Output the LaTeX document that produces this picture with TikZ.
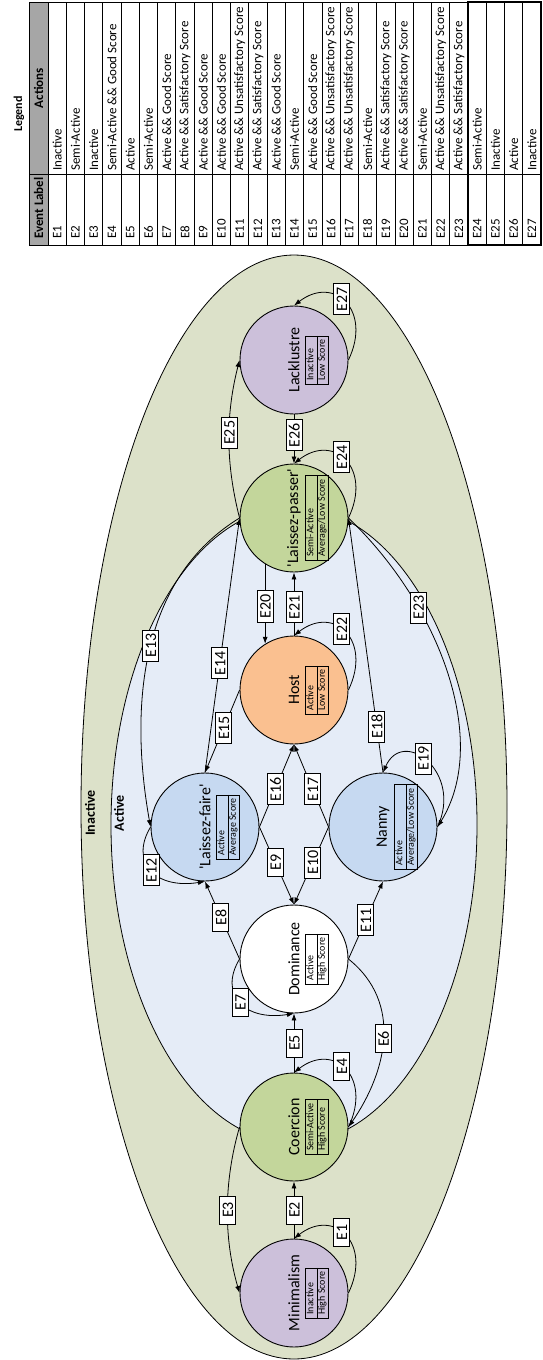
\documentclass[tikz,border=0pt]{standalone}
\usepackage{fontspec}
\setmainfont{Carlito}
\usepackage{tikz}
\usetikzlibrary{positioning,shapes,arrows.meta}

\definecolor{inactivebg}{HTML}{DCE1C9}
\definecolor{activebg}{HTML}{E5ECF7}
\definecolor{lavender}{HTML}{CCC0DA}
\definecolor{olivefill}{HTML}{C3D69B}
\definecolor{peach}{HTML}{FAC090}
\definecolor{skyfill}{HTML}{C6D9F1}
\definecolor{headgray}{HTML}{A6A6A6}

\newcommand{\fsz}[1]{\fontsize{#1}{#1}\selectfont}

\begin{document}
\begin{tikzpicture}[x=1pt,y=1pt]
\tikzstyle{every node}+=[inner sep=0pt]
\tikzstyle{state}=[circle,draw=black,line width=0.9pt,minimum size=108pt]
\tikzstyle{sname}=[rotate=90,font=\fsz{16}]
\tikzstyle{info}=[rectangle split,rectangle split parts=2,rectangle split part align=left,draw=black,line width=0.7pt,rotate=90,font=\fsz{10},inner xsep=3.5pt,inner ysep=0.4pt]
\tikzstyle{elabel}=[draw=black,fill=white,line width=0.8pt,rotate=90,font=\fsz{16},minimum width=28pt,inner xsep=3.5pt,text height=11pt,text depth=0pt,inner ysep=2.5pt]
\tikzstyle{edge}=[line width=0.8pt,-{Latex[length=7pt,width=5pt]}]
\tikzstyle{legtext}=[rotate=90,font=\fsz{13},anchor=west]
\useasboundingbox (0,0) rectangle (543,-1360);

\node[rotate=90,font=\bfseries\fsz{12}] (legend) at (19,-114) {Legend};
\fill[headgray] (29,-2) rectangle (48,-245);
\foreach \k/\act in {1/Inactive,2/Semi-Active,3/Inactive,4/Semi-Active \&\& Good Score,5/Active,6/Semi-Active,7/Active \&\& Good Score,8/Active \&\& Satisfactory Score,9/Active \&\& Good Score,10/Active \&\& Good Score,11/Active \&\& Unsatisfactory Score,12/Active \&\& Satisfactory Score,13/Active \&\& Good Score,14/Semi-Active,15/Active \&\& Good Score,16/Active \&\& Unsatisfactory Score,17/Active \&\& Unsatisfactory Score,18/Semi-Active,19/Active \&\& Satisfactory Score,20/Active \&\& Satisfactory Score,21/Semi-Active,22/Active \&\& Unsatisfactory Score,23/Active \&\& Satisfactory Score,24/Semi-Active,25/Inactive,26/Active,27/Inactive}{
  \node[legtext] (ev\k) at ({38.87+18.26*\k},-239) {E\k};
  \node[legtext] (act\k) at ({38.87+18.26*\k},-171) {\act};
}
\foreach \k in {0,...,26} \draw[line width=0.8pt] ({48+18.26*\k},-2) -- ({48+18.26*\k},-245);
\draw[line width=0.8pt] (29,-174) -- (541,-174);
\draw[line width=0.8pt] (29,-2) rectangle (541,-245);
\draw[line width=1.4pt] (468,-2) rectangle (541,-245);
\node[legtext,font=\bfseries\fsz{13}] (evhead) at (38.5,-239) {Event Label};
\node[rotate=90,font=\bfseries\fsz{13}] (acthead) at (38.5,-88) {Actions};

\draw[fill=inactivebg,line width=0.8pt] (294,-807) ellipse (213pt and 552pt);
\draw[fill=activebg,line width=0.8pt] (294,-825) ellipse (183pt and 318pt);
\node[rotate=90,font=\bfseries\fsz{14}] (inactive) at (90,-813) {Inactive};
\node[rotate=90,font=\bfseries\fsz{14}] (active) at (119,-813) {Active};

\node[state,fill=lavender] (lack) at (294,-360) {};
\node[state,fill=olivefill] (lpass) at (294,-518) {};
\node[state,fill=peach] (host) at (294,-690) {};
\node[state,fill=skyfill] (lfaire) at (205,-827) {};
\node[state,fill=skyfill] (nanny) at (383,-827) {};
\node[state,fill=white] (dom) at (294,-959) {};
\node[state,fill=olivefill] (coer) at (294,-1127) {};
\node[state,fill=lavender] (mini) at (294,-1293) {};

\node[sname] (lack-name) at (lack) {Lacklustre};
\node[info] (lack-info) at ([xshift=23pt]lack.center) {\strut Inactive\nodepart{two}\strut Low Score};
\node[sname] (lpass-name) at (lpass) {\textquotesingle Laissez-passer\textquotesingle};
\node[info] (lpass-info) at ([xshift=23pt]lpass.center) {\strut Semi-Active\nodepart{two}\strut Average/Low Score};
\node[sname] (host-name) at (host) {Host};
\node[info] (host-info) at ([xshift=23pt]host.center) {\strut Active\nodepart{two}\strut Low Score};
\node[sname] (lfaire-name) at (lfaire) {\textquotesingle Laissez-faire\textquotesingle};
\node[info] (lfaire-info) at ([xshift=23pt]lfaire.center) {\strut Active\nodepart{two}\strut Average Score};
\node[sname] (nanny-name) at (nanny) {Nanny};
\node[info] (nanny-info) at ([xshift=23pt]nanny.center) {\strut Active\nodepart{two}\strut Average/Low Score};
\node[sname] (dom-name) at (dom) {Dominance};
\node[info] (dom-info) at ([xshift=23pt]dom.center) {\strut Active\nodepart{two}\strut High Score};
\node[sname] (coer-name) at (coer) {Coercion};
\node[info] (coer-info) at ([xshift=23pt]coer.center) {\strut Semi-Active\nodepart{two}\strut High Score};
\node[sname] (mini-name) at (mini) {Minimalism};
\node[info] (mini-info) at ([xshift=23pt]mini.center) {\strut Inactive\nodepart{two}\strut High Score};

\draw[edge] (mini.east) .. controls +(24,50) and +(40,31) .. (mini.north) node[elabel,pos=0.55] (e1) {E1};
\draw[edge] (mini.north) -- (coer.south) node[elabel,midway] (e2) {E2};
\draw[edge] (coer.west) .. controls +(-16,-55) and +(-16,55) .. (mini.west) node[elabel,midway] (e3) {E3};
\draw[edge] (coer.east) .. controls +(24,50) and +(40,31) .. (coer.north) node[elabel,pos=0.55] (e4) {E4};
\draw[edge] (coer.north) -- (dom.south) node[elabel,midway] (e5) {E5};
\draw[edge] (dom.east) .. controls +(55,-44) and +(38,55) .. (coer.east) node[elabel,midway] (e6) {E6};
\draw[edge] (dom.west) .. controls +(-21,-35) and +(-50,-8) .. (dom.south) node[elabel,midway] (e7) {E7};
\draw[edge] (dom.west) -- (lfaire.south) node[elabel,pos=0.54] (e8) {E8};
\draw[edge] (lfaire.east) -- (dom.north) node[elabel,pos=0.46] (e9) {E9};
\draw[edge] (nanny.west) -- (dom.north) node[elabel,pos=0.46] (e10) {E10};
\draw[edge] (dom.east) -- (nanny.south) node[elabel,midway] (e11) {E11};
\draw[edge] (lfaire.west) .. controls +(-21,-35) and +(-50,-8) .. (lfaire.south) node[elabel,midway] (e12) {E12};
\draw[edge] (lpass.west) .. controls +(-111,-68) and +(-17,95) .. (lfaire.west) node[elabel,pos=0.45] (e13) {E13};
\draw[edge] (lfaire.north) -- (lpass.west) node[elabel,pos=0.43] (e14) {E14};
\draw[edge] (host.west) -- (lfaire.north) node[elabel,pos=0.46] (e15) {E15};
\draw[edge] (lfaire.east) -- (host.south) node[elabel,pos=0.46] (e16) {E16};
\draw[edge] (nanny.west) -- (host.south) node[elabel,pos=0.46] (e17) {E17};
\draw[edge] (nanny.north) -- (lpass.east) node[elabel,pos=0.18] (e18) {E18};
\draw[edge] (nanny.east) .. controls +(26,55) and +(20,46) .. (nanny.north) node[elabel,pos=0.55] (e19) {E19};
\draw[edge] (lpass.238) -- (host.122) node[elabel,pos=0.53] (e20) {E20};
\draw[edge] (host.north) -- (lpass.south) node[elabel,pos=0.45] (e21) {E21};
\draw[edge] (host.east) .. controls +(24,50) and +(40,31) .. (host.north) node[elabel,pos=0.55] (e22) {E22};
\draw[edge] (lpass.east) .. controls +(92,-88) and +(53,85) .. (nanny.east) node[elabel,pos=0.3] (e23) {E23};
\draw[edge] (lpass.east) .. controls +(24,50) and +(40,31) .. (lpass.north) node[elabel,pos=0.55] (e24) {E24};
\draw[edge] (lpass.west) .. controls +(-14,55) and +(-14,-55) .. (lack.west) node[elabel,pos=0.54] (e25) {E25};
\draw[edge] (lack.south) -- (lpass.north) node[elabel,pos=0.42] (e26) {E26};
\draw[edge] (lack.east) .. controls +(24,50) and +(40,31) .. (lack.north) node[elabel,pos=0.55] (e27) {E27};
\end{tikzpicture}
\end{document}
